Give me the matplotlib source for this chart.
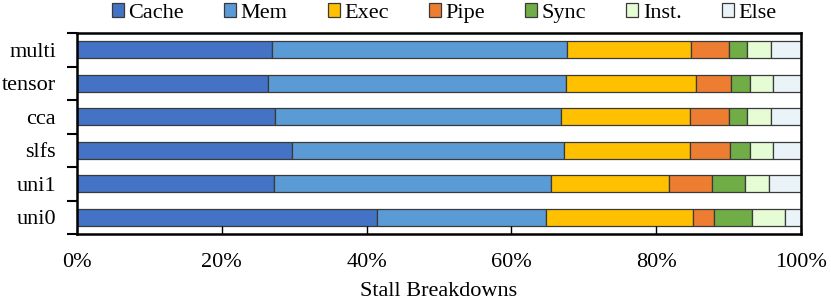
import numpy as np
import matplotlib.pyplot as plt

plt.rcParams['font.family'] = ['Liberation Serif', 'DejaVu Serif']

# Data (percent of stalls), categories listed top to bottom
workloads = ['multi', 'tensor', 'cca', 'slfs', 'uni1', 'uni0']
components = ['Cache', 'Mem', 'Exec', 'Pipe', 'Sync', 'Inst.', 'Else']
cache = [27.0, 26.4, 27.3, 29.7, 27.2, 41.4]
mem = [40.7, 41.2, 39.6, 37.5, 38.3, 23.4]
exec_ = [17.1, 17.9, 17.8, 17.5, 16.2, 20.3]
pipe = [5.3, 4.9, 5.3, 5.5, 6.0, 2.9]
sync = [2.5, 2.5, 2.6, 2.7, 4.5, 5.2]
inst = [3.2, 3.2, 3.3, 3.3, 3.4, 4.6]
other = [4.2, 3.9, 4.1, 3.8, 4.4, 2.2]

colors = ['#4472C4', '#5B9BD5', '#FFC000', '#ED7D31', '#70AD47', '#E6FCD4', '#EAF4F8']
series = [cache, mem, exec_, pipe, sync, inst, other]

fig = plt.figure(figsize=(8.31, 3.03), dpi=100)
ax = fig.add_axes([77/831, 1-234/303, 724/831, 201/303])

y = np.arange(len(workloads))
left = np.zeros(len(workloads))
for name, vals, c in zip(components, series, colors):
    ax.barh(y, vals, left=left, height=0.5, color=c, edgecolor='#3a3a3a',
            linewidth=0.9, label=name)
    left += np.array(vals)

ax.set_xlim(0, 100)
ax.set_ylim(len(workloads) - 0.5, -0.5)
ax.set_xticks(np.arange(0, 101, 20))
ax.set_xticklabels([f'{v}%' for v in range(0, 101, 20)], fontsize=16)
ax.tick_params(axis='x', direction='in', length=6, width=1, pad=14)

ax.set_yticks(y)
ax.set_yticklabels(workloads, fontsize=16)
ax.tick_params(axis='y', which='major', length=0, pad=15)
ax.set_yticks(np.arange(-0.5, len(workloads)), minor=True)
ax.tick_params(axis='y', which='minor', direction='out', length=7, width=1.5)

for s in ax.spines.values():
    s.set_linewidth(1.8)

ax.set_xlabel('Stall Breakdowns', fontsize=16, labelpad=7)

fig.legend(loc='center', bbox_to_anchor=(444/831, 1-13/303), ncol=7,
           frameon=False, fontsize=16, handlelength=0.55, handleheight=0.55,
           handletextpad=0.2, columnspacing=1.8, borderpad=0)

plt.savefig('out.png', dpi=100)
